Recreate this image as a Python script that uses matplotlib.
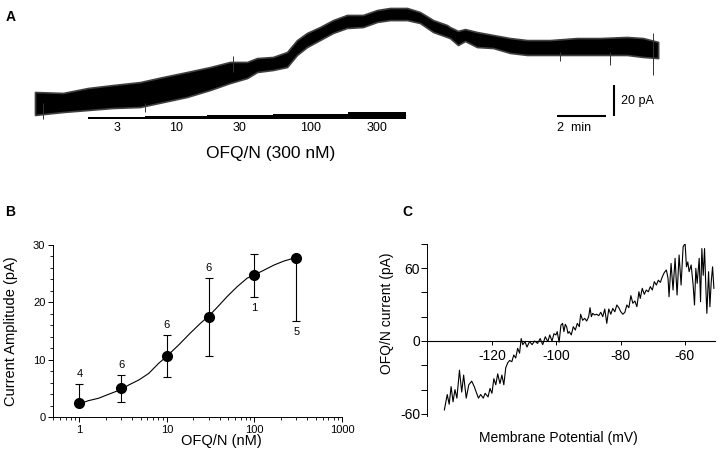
import matplotlib
matplotlib.use('Agg')
import matplotlib.pyplot as plt
from matplotlib.ticker import FixedLocator, MultipleLocator, NullFormatter

plt.rcParams['font.family'] = ['Liberation Sans', 'DejaVu Sans']
plt.rcParams['axes.unicode_minus'] = False

# --- A: whole-cell current trace (envelope of the noisy record), min / pA ---
trace_t = [0.0, 1.15, 2.18, 3.2, 4.31, 5.26, 6.24, 7.19, 8.01, 8.71, 9.12, 9.77,
           10.35, 10.76, 11.17, 11.70, 12.24, 12.81, 13.47, 14.05, 14.58, 15.28,
           15.81, 16.35, 16.92, 17.04, 17.37, 17.66, 18.15, 18.81, 19.51, 20.21,
           21.15, 22.26, 23.20, 24.31, 24.97, 25.59]
trace_top = [7.1, 6.5, 9.7, 11.6, 13.5, 16.8, 20.0, 23.2, 26.5, 26.5, 29.0, 29.7,
             32.9, 40.6, 45.2, 49.0, 53.5, 56.8, 56.8, 60.0, 61.3, 61.3,
             58.7, 53.5, 50.3, 49.0, 46.5, 47.7, 45.8, 43.9, 41.9, 40.6,
             40.6, 41.9, 41.9, 42.6, 41.9, 39.4]
trace_bot = [-7.7, -5.8, -4.5, -3.2, -2.6, 0.6, 3.9, 8.4, 12.9, 16.1, 20.0, 21.3,
             23.2, 31.0, 36.1, 40.6, 45.2, 48.4, 49.0, 52.3, 53.5, 53.5,
             51.6, 45.8, 42.6, 41.9, 37.4, 40.0, 36.1, 35.5, 32.3, 31.0,
             31.0, 31.0, 31.0, 31.0, 29.7, 29.0]
# a few isolated spikes sticking out of the band
spike_t = [0.33, 4.5, 8.13, 21.56, 23.61, 25.38]
spike_lo = [-10.5, -6.0, 20.0, 27.0, 24.5, 18.1]
spike_hi = [0.0, 0.0, 30.3, 33.0, 33.0, 45.2]

# agonist application bar (stepped concentrations)
conc_labels = ['3', '10', '30', '100', '300']
conc_edges = [2.18, 4.52, 7.06, 9.77, 12.85, 15.24]
scale_pa = 20
scale_min = 2

# --- B: concentration-response ---
conc = [1, 3, 10, 30, 100, 300]
amp = [2.4, 5.0, 10.7, 17.5, 24.8, 27.8]
err_lo = [0, 2.4, 3.65, 6.8, 3.8, 11.0]
err_hi = [3.35, 2.3, 3.6, 6.8, 3.6, 0]
n_cells = ['4', '6', '6', '6', '1', '5']
n_above = [True, True, True, True, False, False]
fit_x = [1, 1.27, 1.65, 2.15, 3, 3.66, 4.77, 6.2, 8.1, 10, 13.7, 18.4, 24, 30,
         37.4, 48.7, 63.2, 82.3, 100, 128, 167, 217, 296]
fit_y = [2.3, 2.85, 3.26, 3.95, 4.8, 5.58, 6.45, 7.6, 9.4, 10.6, 12.6, 14.6, 16.3,
         17.6, 19.1, 21.0, 22.7, 24.2, 24.8, 25.6, 26.5, 27.2, 27.8]

# --- C: I-V relation of the OFQ/N current ---
iv_v = [-134.8, -133.9, -133.3, -132.7, -132.1, -131.5, -130.9, -130.1, -129.4,
        -128.8, -128.0, -127.2, -126.3, -125.5, -124.9, -124.2, -123.5, -122.7,
        -122.1, -121.2, -120.6, -120.0, -119.4, -118.8, -118.2, -117.5, -116.9,
        -116.3, -115.7, -115.1, -114.5, -113.8, -113.2, -112.6, -112.0, -111.4,
        -110.9, -110.4, -109.7, -109.1, -108.3, -107.5, -106.7, -105.8, -105.0,
        -104.2, -103.4, -102.6, -102.0, -101.3, -100.7, -100.1, -99.7, -99.1,
        -98.54, -98.02, -97.6, -97.19, -96.77, -96.35, -95.94, -95.31, -94.69,
        -94.06, -93.44, -92.81, -92.40, -91.77, -91.15, -90.52, -89.90, -89.48,
        -89.06, -88.65, -88.02, -87.40, -86.77, -86.15, -85.52, -84.90, -84.27,
        -83.65, -83.02, -82.40, -81.77, -81.15, -80.52, -79.90, -79.27, -78.65,
        -78.02, -77.40, -76.77, -76.15, -75.52, -74.90, -74.27, -73.85, -73.23,
        -72.60, -71.98, -71.35, -70.73, -70.10, -69.48, -68.85, -68.23, -67.60,
        -66.98, -66.35, -65.73, -65.21, -64.90, -64.27, -63.65, -63.02, -62.40,
        -61.77, -61.15, -60.52, -59.90, -59.48, -59.06, -58.65, -58.02, -57.40,
        -56.98, -56.56, -56.15, -55.52, -55.10, -54.69, -54.27, -53.85, -53.44,
        -53.13, -52.60, -52.19, -51.77, -51.35, -50.94]
iv_i = [-56.7, -44, -52, -37.5, -50, -40, -47, -24, -42,
        -28, -47, -36, -33, -37.5, -42, -47, -44, -47,
        -43, -46, -39, -43, -31, -36, -27, -35, -28,
        -36, -22, -18, -16, -17, -11.5, -14, -6, -10,
        2, -3, -0.5, -5, -0.5, -3, 0, -2, 2,
        -3, 3.5, -0.5, 5, 0, 6, 5, 7.7, -1,
        13, 14.5, 7.7, 13.7, 11.8, 6.3, 7.7, 5, 11.8,
        9, 14.5, 11.8, 22, 17, 18.6, 16.4, 20, 27.4,
        20, 22.7, 21.4, 22, 20.8, 23.6, 20, 26.3, 14.5,
        26.3, 22, 26.8, 24, 29.6, 27.4, 24, 22, 23.6,
        29.6, 27.4, 37.3, 31, 32.9, 28.2, 40.5, 35, 43.3,
        38.4, 41.9, 40.5, 44.7, 41.9, 48.8, 46, 50, 48.2,
        52.9, 56.4, 58.4, 51.5, 36.4, 63.8, 41.9, 68, 37.8,
        70.7, 46, 77.5, 80.3, 61, 65, 57, 62.5, 46,
        29.6, 59.7, 47.4, 68, 32.3, 76, 54, 76, 43.3,
        22.7, 57, 28.2, 48.8, 61, 43.3]

fig = plt.figure(figsize=(7.2, 4.54), dpi=100)

# ---------------- panel A ----------------
axA = fig.add_axes([0, 1 - 170 / 454, 1, 170 / 454])
axA.set_xlim(-1.437, 28.13)
axA.set_ylim(-43.2, 66.45)
axA.axis('off')
axA.fill_between(trace_t, trace_bot, trace_top, color='black', lw=1.2, edgecolor='0.25')
axA.vlines(spike_t, spike_lo, spike_hi, color='0.2', lw=0.7)

bar_base = -10.0
bar_thick = [1.0, 1.5, 2.1, 2.9, 4.5]
for i, lab in enumerate(conc_labels):
    axA.bar(conc_edges[i], bar_thick[i], width=conc_edges[i + 1] - conc_edges[i],
            bottom=bar_base, align='edge', color='black', lw=0)
    axA.text((conc_edges[i] + conc_edges[i + 1]) / 2, -16.1, lab,
             ha='center', va='center', fontsize=9)
axA.text(9.69, -32.3, 'OFQ/N (300 nM)', ha='center', va='center', fontsize=12.5)

# scale bars
sb_t, sb_y = 23.78, -8.4
axA.plot([sb_t, sb_t], [sb_y, sb_y + scale_pa], color='black', lw=1.5, solid_capstyle='butt')
axA.plot([sb_t - 0.34 - scale_min, sb_t - 0.34], [sb_y, sb_y], color='black', lw=1.5,
         solid_capstyle='butt')
axA.text(sb_t + 0.3, sb_y + scale_pa / 2, f'{scale_pa} pA', ha='left', va='center', fontsize=9)
axA.text(sb_t - 0.34 - scale_min, -16.1, f'{scale_min}  min', ha='left', va='center', fontsize=9)

# ---------------- panel B ----------------
axB = fig.add_axes([53 / 720, 37 / 454, 289 / 720, 172 / 454])
axB.set_xscale('log')
axB.set_xlim(0.5, 1000)
axB.set_ylim(0, 30)
axB.plot(fit_x, fit_y, color='black', lw=0.8)
axB.errorbar(conc, amp, yerr=[err_lo, err_hi], fmt='o', color='black', ms=7,
             capsize=3, elinewidth=0.8, capthick=0.8)
for x, y, lo, hi, n, up in zip(conc, amp, err_lo, err_hi, n_cells, n_above):
    if up:
        axB.annotate(n, (x, y + hi), xytext=(0, 7), textcoords='offset points',
                     ha='center', va='center', fontsize=8)
    else:
        axB.annotate(n, (x, y - lo), xytext=(0, -8), textcoords='offset points',
                     ha='center', va='center', fontsize=8)
for s in ['top', 'right']:
    axB.spines[s].set_visible(False)
axB.yaxis.set_major_locator(FixedLocator([0, 10, 20, 30]))
axB.yaxis.set_minor_locator(MultipleLocator(2))
axB.xaxis.set_minor_formatter(NullFormatter())
axB.set_xticks([1, 10, 100, 1000])
axB.set_xticklabels(['1', '10', '100', '1000'])
axB.tick_params(which='major', length=3.5, width=0.7, labelsize=8, pad=2)
axB.tick_params(which='minor', length=2, width=0.6)
for s in ['left', 'bottom']:
    axB.spines[s].set_linewidth(0.7)
axB.set_ylabel('Current Amplitude (pA)', fontsize=10.5)
axB.set_xlabel('OFQ/N (nM)', fontsize=10.5, va='center')
axB.yaxis.set_label_coords(-0.122, 0.5)
axB.xaxis.set_label_coords(0.581, -0.14)

# ---------------- panel C ----------------
axC = fig.add_axes([427 / 720, 37.6 / 454, 288 / 720, 172.7 / 454])
axC.set_xlim(-140.2, -50.6)
axC.set_ylim(-62, 80)
axC.plot(iv_v, iv_i, color='black', lw=0.8)
axC.spines['top'].set_visible(False)
axC.spines['right'].set_visible(False)
axC.spines['bottom'].set_position(('data', 0))
axC.spines['bottom'].set_linewidth(0.8)
axC.spines['left'].set_linewidth(0.7)
axC.set_xticks([-120, -100, -80, -60])
axC.set_yticks([-60, -40, -20, 0, 20, 40, 60, 80])
axC.set_yticklabels(['-60', '', '', '0', '', '', '60', ''])
axC.tick_params(axis='y', length=4, width=0.7, labelsize=10, pad=1)
axC.tick_params(axis='x', length=3, width=0.7, labelsize=10, pad=3)
axC.set_ylabel('OFQ/N current (pA)', fontsize=10)
axC.set_xlabel('Membrane Potential (mV)', fontsize=10, va='center')
axC.yaxis.set_label_coords(-0.115, 0.6)
axC.xaxis.set_label_coords(0.455, -0.125)

# panel letters
fig.text(11 / 720, 1 - 17 / 454, 'A', fontsize=10, fontweight='bold', ha='center', va='center')
fig.text(10 / 720, 1 - 212 / 454, 'B', fontsize=10, fontweight='bold', ha='center', va='center')
fig.text(407 / 720, 1 - 212 / 454, 'C', fontsize=10, fontweight='bold', ha='center', va='center')

fig.savefig('out.png', dpi=100)
